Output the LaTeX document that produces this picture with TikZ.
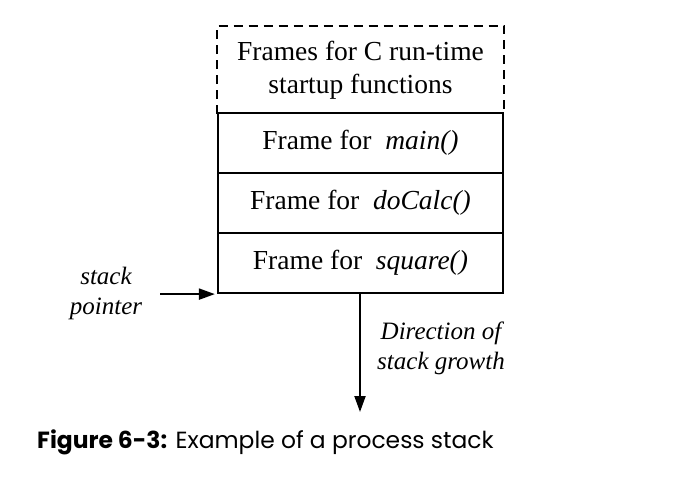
\documentclass[tikz,border=0pt]{standalone}
\usepackage{fontspec}
\setmainfont{Liberation Serif}
\newfontfamily\capfont{Poppins}
\usetikzlibrary{positioning,
        arrows.meta}

\begin{document}
\begin{tikzpicture}[x=1pt,y=-1pt,
        frame/.style={rectangle,minimum width=285pt,minimum height=60pt,inner sep=0pt,
                line width=2.2pt,font=\fontsize{27.5}{33}\selectfont},
        note/.style={align=center,inner sep=0pt,font=\fontsize{25}{30}\selectfont\itshape},
        >={Triangle[length=16pt,width=11pt]}]
        \useasboundingbox (0,0) rectangle (700,486);

        \node [frame,minimum height=86pt,align=center] (crt) at (360.5,70) {Frames for C run-time\\startup functions};
        \node [frame,draw] (main) at (360.5,143) {Frame for\hspace{0.5em}\textit{main()}};
        \node [frame,draw] (calc) at (360.5,203) {Frame for\hspace{0.5em}\textit{doCalc()}};
        \node [frame,draw] (sq) at (360.5,263) {Frame for\hspace{0.5em}\textit{square()}};

        \draw [line width=2.4pt,dash pattern=on 9pt off 6pt] (crt.south west) -- (crt.north west) -- (crt.north east) -- (crt.south east);

        \node [note] (sp) at (106,293) {stack\\pointer};
        \node [note] (dir) at (441,348) {Direction of\\stack growth};
        \coordinate (grow) at (360,412);

        \draw [->,line width=2pt,shorten <=18pt,shorten >=2pt] (sp.east |- sq.south west) -- (sq.south west);
        \draw [->,line width=2pt] (sq.south west -| grow) -- (grow);

        \node [anchor=west,inner sep=0pt,font=\capfont\fontsize{23.4}{28}\selectfont] (cap) at (37,442)
                {\textbf{Figure 6-3:} Example of a process stack};
\end{tikzpicture}
\end{document}
